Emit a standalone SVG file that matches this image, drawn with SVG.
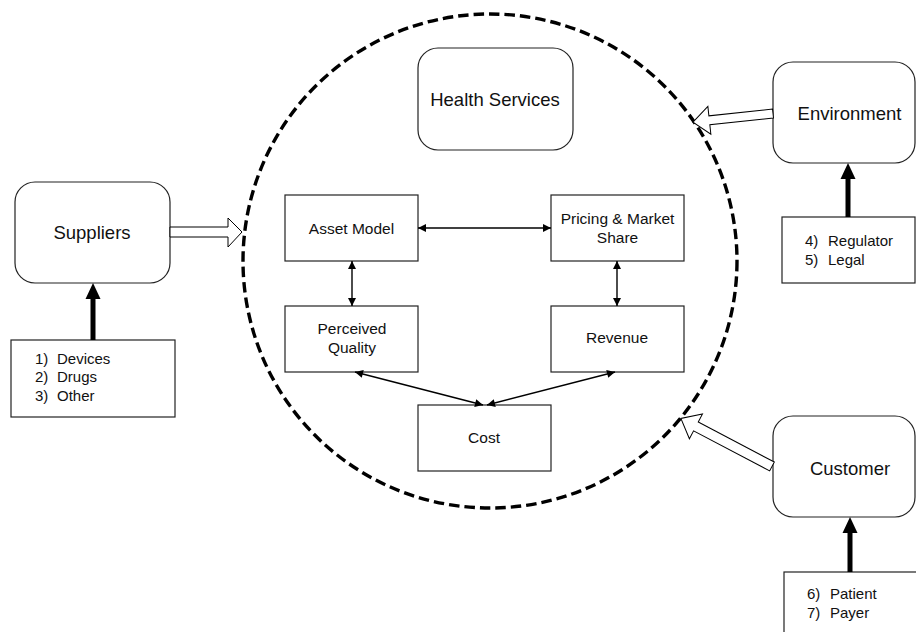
<svg xmlns="http://www.w3.org/2000/svg" width="916" height="632" viewBox="0 0 916 632">
<defs>
<style>
.box{fill:#fff;stroke:#222;stroke-width:1.2}
.big{font-family:"Liberation Sans",Arial,sans-serif;font-size:18.5px;fill:#111;text-anchor:middle}
.mid{font-family:"Liberation Sans",Arial,sans-serif;font-size:15.5px;fill:#111;text-anchor:middle}
.lst{font-family:"Liberation Sans",Arial,sans-serif;font-size:15px;fill:#111}
.thin{stroke:#000;stroke-width:1.4;fill:none;marker-start:url(#ah);marker-end:url(#ah)}
.hollow{fill:#fff;stroke:#000;stroke-width:1}
.thick{stroke:#000;stroke-width:5}
</style>
<marker id="ah" viewBox="0 0 10 10" refX="10" refY="5" markerWidth="10" markerHeight="8" markerUnits="userSpaceOnUse" orient="auto-start-reverse">
<path d="M0,0 L10,5 L0,10 Z" fill="#000"/>
</marker>
</defs>
<rect width="916" height="632" fill="#fff"/>

<g id="boundary">
<circle cx="490" cy="261" r="247" fill="none" stroke="#000" stroke-width="3.4" stroke-dasharray="10.5 5"/>
</g>

<g id="health-services">
<rect class="box" x="418" y="48" width="155" height="102" rx="20"/>
<text class="big" x="495" y="105.5">Health Services</text>
</g>

<g id="asset-model">
<rect class="box" x="285" y="195" width="133" height="66"/>
<text class="mid" x="351.5" y="233.5">Asset Model</text>
</g>

<g id="pricing">
<rect class="box" x="551" y="195" width="133" height="66"/>
<text class="mid" x="617.5" y="223.5">Pricing &amp; Market</text>
<text class="mid" x="617.5" y="242.5">Share</text>
</g>

<g id="perceived-quality">
<rect class="box" x="285" y="306" width="133" height="66"/>
<text class="mid" x="352" y="333.5">Perceived</text>
<text class="mid" x="352" y="352.5">Quality</text>
</g>

<g id="revenue">
<rect class="box" x="551" y="306" width="133" height="66"/>
<text class="mid" x="617" y="342.5">Revenue</text>
</g>

<g id="cost">
<rect class="box" x="418" y="405" width="133" height="66"/>
<text class="mid" x="484" y="442.5">Cost</text>
</g>

<g id="suppliers">
<rect class="box" x="15" y="182" width="155" height="101" rx="20"/>
<text class="big" x="92" y="238.5">Suppliers</text>
</g>

<g id="suppliers-list">
<rect class="box" x="11" y="340" width="164" height="77"/>
<text class="lst" y="363.5"><tspan x="35">1)</tspan><tspan x="57">Devices</tspan></text>
<text class="lst" y="382"><tspan x="35">2)</tspan><tspan x="57">Drugs</tspan></text>
<text class="lst" y="400.5"><tspan x="35">3)</tspan><tspan x="57">Other</tspan></text>
</g>

<g id="environment">
<rect class="box" x="773" y="62" width="142" height="101" rx="20"/>
<text class="big" x="849.5" y="119.5">Environment</text>
</g>

<g id="environment-list">
<rect class="box" x="782" y="217" width="133" height="66"/>
<text class="lst" y="246"><tspan x="805">4)</tspan><tspan x="828">Regulator</tspan></text>
<text class="lst" y="264.5"><tspan x="805">5)</tspan><tspan x="828">Legal</tspan></text>
</g>

<g id="customer">
<rect class="box" x="773" y="416" width="142" height="101" rx="20"/>
<text class="big" x="850" y="474.5">Customer</text>
</g>

<g id="customer-list">
<rect class="box" x="784" y="572" width="140" height="70"/>
<text class="lst" y="598.5"><tspan x="807">6)</tspan><tspan x="830">Patient</tspan></text>
<text class="lst" y="618"><tspan x="807">7)</tspan><tspan x="830">Payer</tspan></text>
</g>

<g id="connectors">
<line class="thin" x1="418" y1="228" x2="551" y2="228"/>
<line class="thin" x1="352" y1="261" x2="352" y2="306"/>
<line class="thin" x1="617" y1="261" x2="617" y2="306"/>
<line class="thin" x1="355" y1="372" x2="483" y2="405"/>
<line class="thin" x1="615" y1="372" x2="487" y2="405"/>

<polygon class="hollow" points="170,227 228,227 228,218 242,232 228,247 228,237 170,237"/>
<polygon class="hollow" transform="translate(773,113.5) rotate(173.9)" points="0,-4.5 64,-4.5 64,-14 80.5,0 64,14 64,4.5 0,4.5"/>
<polygon class="hollow" transform="translate(772,466.5) rotate(-152.2)" points="0,-5 86,-5 86,-14 103,0 86,14 86,5 0,5"/>

<line class="thick" x1="93" y1="340" x2="93" y2="297"/>
<polygon points="93,283 85.5,299 100.5,299" fill="#000"/>
<line class="thick" x1="848" y1="217" x2="848" y2="177"/>
<polygon points="848,163 840.5,179 855.5,179" fill="#000"/>
<line class="thick" x1="850" y1="572" x2="850" y2="531"/>
<polygon points="850,517 842.5,533 857.5,533" fill="#000"/>
</g>
</svg>
